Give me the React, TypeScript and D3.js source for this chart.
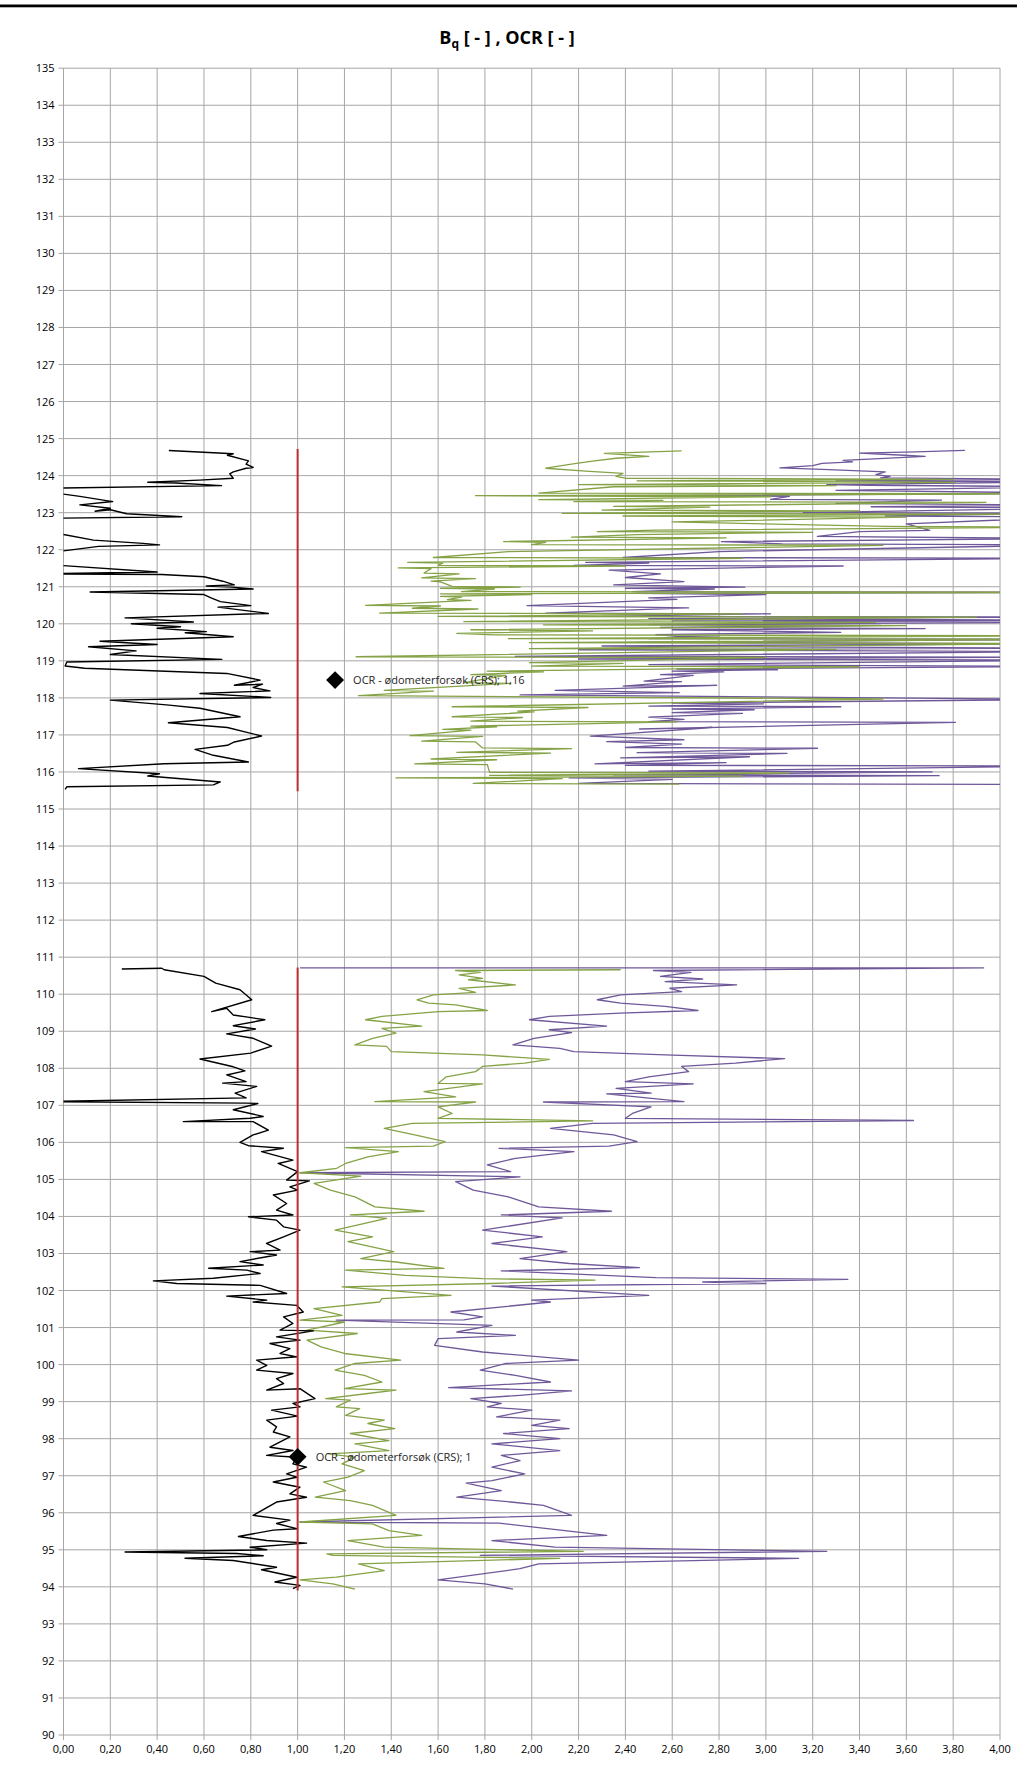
import React from 'react';
import * as d3 from 'd3';

// Bq (black) and OCR from correlations (green, purple) vs. elevation
const bqUpper: [number, number][] = [
  [0.45,124.68],[0.725,124.59],[0.70,124.55],[0.79,124.4],[0.78,124.31],[0.81,124.22],[0.78,124.2],[0.725,124.1],[0.71,124.05],[0.725,123.93],[0.58,123.88],[0.36,123.82],[0.48,123.8],[0.675,123.73],[-0.3,123.64],[-0.3,123.55],[0.0,123.5],[0.07,123.44],[0.21,123.3],[0.07,123.21],[0.2,123.12],[0.135,123.04],[0.2,123.08],[0.27,122.97],[0.505,122.89],[-0.3,122.83],[-0.3,122.5],[0.0,122.41],[0.128,122.26],[0.34,122.17],[0.41,122.13],[0.15,122.09],[0.0,121.97],[-0.3,121.9],[-0.3,121.65],[0.0,121.57],[0.4,121.4],[-0.1,121.35],[0.42,121.33],[0.6,121.27],[0.68,121.15],[0.73,121.05],[0.61,121.02],[0.72,120.99],[0.81,120.94],[0.114,120.86],[0.6,120.79],[0.63,120.7],[0.67,120.6],[0.8,120.49],[0.66,120.45],[0.875,120.28],[0.263,120.16],[0.555,120.05],[0.29,120.0],[0.5,119.92],[0.4,119.88],[0.61,119.79],[0.52,119.76],[0.725,119.65],[0.156,119.53],[0.4,119.44],[0.107,119.38],[0.31,119.27],[0.2,119.17],[0.676,119.04],[0.014,118.97],[0.007,118.86],[0.09,118.8],[0.697,118.66],[0.84,118.48],[0.73,118.34],[0.85,118.37],[0.81,118.28],[0.882,118.19],[0.583,118.12],[0.885,118.01],[0.2,117.94],[0.44,117.81],[0.583,117.72],[0.754,117.49],[0.448,117.33],[0.7,117.2],[0.846,116.97],[0.73,116.81],[0.7,116.72],[0.562,116.61],[0.64,116.45],[0.79,116.27],[0.43,116.22],[0.064,116.09],[0.41,115.95],[0.36,115.89],[0.67,115.73],[0.64,115.65],[0.014,115.6],[0.007,115.53]
];

const bqLower: [number, number][] = [
  [0.249,110.68],[0.42,110.7],[0.43,110.66],[0.6,110.48],[0.65,110.3],[0.754,110.12],[0.804,109.85],[0.633,109.53],[0.697,109.62],[0.725,109.44],[0.86,109.31],[0.725,109.15],[0.82,109.06],[0.697,108.93],[0.81,108.81],[0.889,108.6],[0.8,108.41],[0.583,108.25],[0.725,108.04],[0.775,107.93],[0.697,107.82],[0.78,107.64],[0.68,107.6],[0.825,107.51],[0.733,107.33],[0.78,107.2],[-0.1,107.1],[0.78,107.06],[0.83,107.05],[0.725,106.88],[0.853,106.7],[0.797,106.65],[0.512,106.56],[0.81,106.56],[0.875,106.33],[0.81,106.2],[0.754,106.0],[0.79,105.91],[0.939,105.84],[0.846,105.75],[0.98,105.52],[0.917,105.43],[1.0,105.21],[0.953,104.98],[1.05,104.96],[0.967,104.8],[1.0,104.71],[0.896,104.58],[0.953,104.35],[0.91,104.17],[0.98,104.04],[0.79,103.99],[0.91,103.9],[0.94,103.72],[1.01,103.63],[0.94,103.45],[0.867,103.27],[0.925,103.09],[0.797,103.05],[0.91,102.96],[0.754,102.78],[0.853,102.69],[0.62,102.6],[0.783,102.55],[0.84,102.46],[0.64,102.33],[0.384,102.26],[0.484,102.19],[0.84,102.14],[0.953,101.92],[0.697,101.85],[0.868,101.74],[0.81,101.69],[0.996,101.6],[1.024,101.42],[0.94,101.29],[0.98,101.11],[0.925,100.93],[1.067,100.91],[0.91,100.75],[1.01,100.66],[0.882,100.57],[0.967,100.43],[0.925,100.3],[0.996,100.21],[0.825,100.12],[0.868,99.98],[0.825,99.85],[0.98,99.76],[0.91,99.62],[0.94,99.49],[0.868,99.31],[1.01,99.35],[1.074,99.08],[0.98,98.95],[1.01,98.86],[0.889,98.77],[1.0,98.61],[0.868,98.5],[0.91,98.32],[0.896,98.18],[0.967,98.05],[0.882,97.77],[0.98,97.68],[0.868,97.55],[0.996,97.5],[0.98,97.32],[1.038,97.23],[0.953,97.05],[0.996,96.96],[0.896,96.83],[1.01,96.69],[0.967,96.51],[1.038,96.42],[0.91,96.29],[0.81,95.93],[0.967,95.8],[0.91,95.71],[0.996,95.57],[0.896,95.53],[0.747,95.36],[0.868,95.25],[1.038,95.18],[0.797,95.07],[0.868,95.0],[0.263,94.94],[0.74,94.9],[0.853,94.84],[0.519,94.77],[0.725,94.71],[0.91,94.53],[0.846,94.46],[0.996,94.26],[0.903,94.13],[1.01,94.04],[0.98,93.95]
];

const greenUpper: [number, number][] = [
  [2.64,124.67],[2.31,124.6],[2.5,124.52],[2.36,124.47],[2.26,124.39],[2.19,124.33],[2.06,124.2],[2.23,124.12],[2.39,124.06],[2.36,123.98],[2.4,123.93],[3.8,123.9],[2.45,123.86],[3.81,123.82],[2.2,123.76],[3.3,123.73],[2.35,123.7],[2.03,123.53],[4.3,123.51],[1.76,123.46],[3.02,123.43],[2.03,123.35],[2.56,123.33],[2.18,123.3],[3.94,123.28],[2.35,123.17],[2.76,123.15],[2.3,123.07],[3.4,123.05],[2.13,122.98],[4.3,122.96],[2.39,122.91],[3.6,122.88],[2.6,122.75],[3.52,122.63],[4.3,122.61],[2.53,122.53],[2.28,122.49],[3.2,122.47],[2.45,122.41],[2.17,122.34],[2.83,122.32],[1.88,122.22],[2.06,122.2],[2.0,122.14],[3.5,122.12],[1.9,121.95],[1.58,121.79],[2.9,121.77],[1.47,121.66],[1.62,121.64],[1.6,121.58],[2.4,121.56],[1.43,121.51],[1.57,121.49],[1.54,121.37],[1.69,121.35],[1.53,121.24],[1.76,121.22],[1.57,121.15],[1.61,121.13],[1.66,121.01],[1.95,120.99],[1.61,120.96],[1.84,120.94],[1.7,120.87],[4.3,120.85],[1.61,120.81],[2.0,120.79],[1.61,120.74],[1.7,120.72],[1.64,120.65],[1.74,120.63],[1.29,120.5],[1.61,120.48],[1.49,120.42],[1.77,120.4],[1.35,120.29],[2.9,120.27],[1.6,120.2],[3.9,120.18],[1.71,120.06],[3.47,120.04],[2.05,119.97],[3.6,119.95],[1.74,119.84],[2.26,119.81],[1.68,119.74],[1.84,119.7],[4.3,119.68],[1.9,119.6],[4.3,119.58],[1.99,119.49],[4.3,119.47],[1.99,119.33],[3.3,119.31],[1.25,119.11],[3.0,119.09],[1.99,118.95],[2.39,118.93],[2.0,118.86],[3.4,118.84],[1.81,118.72],[2.05,118.7],[1.74,118.63],[1.89,118.61],[1.71,118.41],[1.91,118.39],[1.37,118.2],[1.58,118.18],[1.26,118.06],[3.5,117.97],[1.66,117.76],[2.24,117.74],[1.94,117.64],[2.01,117.62],[1.66,117.49],[1.96,117.47],[1.74,117.37],[2.62,117.35],[1.74,117.24],[1.85,117.22],[1.62,117.15],[1.74,117.13],[1.48,116.98],[1.79,116.96],[1.53,116.83],[1.76,116.81],[1.79,116.65],[2.17,116.63],[1.68,116.53],[2.08,116.51],[1.57,116.35],[1.85,116.33],[1.5,116.22],[1.81,116.2],[1.82,115.99],[3.1,115.97],[1.82,115.91],[2.9,115.89],[1.42,115.84],[2.13,115.82],[1.75,115.69],[2.63,115.67]
];

const purpleUpper: [number, number][] = [
  [3.85,124.68],[3.64,124.64],[3.4,124.61],[3.59,124.55],[3.68,124.52],[3.33,124.41],[3.37,124.37],[3.24,124.33],[3.2,124.27],[3.06,124.21],[3.24,124.17],[3.51,124.1],[3.47,124.03],[3.53,123.98],[3.49,123.94],[4.3,123.9],[3.3,123.86],[4.3,123.83],[3.26,123.76],[3.44,123.74],[4.3,123.7],[3.3,123.6],[4.3,123.53],[2.64,123.46],[3.1,123.44],[3.02,123.36],[3.75,123.34],[3.3,123.25],[4.3,123.2],[3.45,123.16],[4.3,123.12],[3.16,123.0],[4.3,122.98],[3.51,122.91],[4.3,122.88],[3.6,122.7],[3.7,122.52],[3.4,122.49],[3.22,122.36],[4.3,122.3],[2.81,122.22],[3.07,122.16],[4.3,122.13],[2.8,121.95],[2.39,121.79],[4.3,121.77],[2.23,121.66],[2.5,121.64],[2.18,121.58],[3.33,121.56],[2.33,121.45],[2.55,121.35],[2.4,121.25],[2.65,121.14],[2.35,121.05],[2.91,120.99],[2.4,120.96],[2.78,120.94],[2.43,120.87],[4.3,120.85],[2.45,120.82],[3.0,120.79],[2.5,120.7],[2.62,120.66],[1.98,120.49],[2.67,120.43],[2.06,120.29],[3.02,120.27],[2.3,120.2],[4.3,120.18],[2.5,120.14],[4.3,120.1],[2.6,120.08],[4.3,120.04],[2.5,119.98],[3.49,119.96],[2.55,119.9],[3.68,119.87],[2.6,119.84],[3.32,119.77],[2.53,119.71],[2.62,119.66],[2.8,119.64],[2.5,119.6],[4.3,119.58],[2.45,119.5],[4.3,119.46],[2.3,119.4],[4.3,119.34],[2.2,119.3],[4.3,119.25],[1.93,119.12],[4.3,119.1],[2.2,119.05],[4.3,119.02],[2.5,118.9],[4.3,118.85],[2.62,118.78],[3.05,118.76],[2.6,118.72],[2.82,118.7],[2.55,118.63],[2.69,118.61],[2.48,118.45],[2.64,118.44],[2.39,118.32],[2.79,118.34],[2.1,118.2],[2.63,118.14],[1.95,118.08],[4.3,117.96],[2.6,117.86],[2.99,117.84],[2.5,117.78],[3.32,117.76],[2.6,117.7],[2.95,117.68],[2.6,117.6],[2.9,117.58],[2.5,117.48],[2.65,117.42],[2.5,117.36],[3.81,117.34],[2.46,117.16],[2.77,117.2],[2.25,116.97],[2.65,116.87],[2.32,116.82],[2.64,116.75],[2.4,116.66],[3.22,116.64],[2.45,116.52],[3.09,116.5],[2.38,116.38],[2.93,116.41],[2.27,116.22],[2.83,116.25],[2.4,116.18],[4.3,116.16],[2.5,116.02],[3.71,116.0],[2.35,115.92],[3.74,115.9],[2.16,115.84],[2.6,115.8],[2.2,115.69],[4.3,115.66]
];

const greenLower: [number, number][] = [
  [2.38,110.66],[1.675,110.64],[1.78,110.59],[1.69,110.52],[1.79,110.43],[1.73,110.39],[1.93,110.25],[1.69,110.16],[1.76,110.05],[1.58,109.98],[1.51,109.85],[1.56,109.76],[1.675,109.71],[1.81,109.56],[1.6,109.53],[1.36,109.4],[1.29,109.31],[1.53,109.14],[1.36,109.08],[1.42,108.95],[1.32,108.81],[1.245,108.63],[1.38,108.59],[1.4,108.45],[1.79,108.36],[2.075,108.24],[1.97,108.14],[1.79,108.05],[1.76,107.91],[1.635,107.77],[1.6,107.59],[1.79,107.58],[1.54,107.37],[1.675,107.23],[1.33,107.1],[1.76,107.09],[1.6,106.96],[1.66,106.78],[1.6,106.65],[2.26,106.58],[1.49,106.51],[1.37,106.38],[1.5,106.2],[1.63,106.02],[1.58,105.9],[1.205,105.86],[1.43,105.75],[1.3,105.61],[1.205,105.43],[1.167,105.3],[1.01,105.18],[1.27,105.09],[1.07,104.89],[1.14,104.71],[1.245,104.53],[1.33,104.26],[1.54,104.14],[1.225,104.04],[1.38,103.95],[1.16,103.63],[1.32,103.45],[1.215,103.32],[1.41,103.05],[1.27,102.86],[1.42,102.77],[1.625,102.6],[1.205,102.55],[1.46,102.41],[1.79,102.32],[2.27,102.28],[1.83,102.19],[1.19,102.1],[1.655,101.87],[1.36,101.78],[1.35,101.69],[1.07,101.51],[1.19,101.33],[1.01,101.2],[1.2,101.15],[1.04,100.93],[1.255,100.84],[1.04,100.66],[1.1,100.48],[1.2,100.3],[1.44,100.12],[1.245,100.03],[1.16,99.85],[1.285,99.71],[1.36,99.53],[1.2,99.35],[1.42,99.31],[1.3,99.22],[1.12,99.08],[1.225,99.04],[1.165,98.86],[1.265,98.81],[1.205,98.63],[1.37,98.5],[1.3,98.41],[1.415,98.27],[1.225,98.14],[1.39,97.95],[1.245,97.86],[1.39,97.68],[1.13,97.59],[1.245,97.5],[1.19,97.32],[1.285,97.14],[1.215,96.96],[1.11,96.83],[1.205,96.6],[1.075,96.42],[1.225,96.33],[1.32,96.2],[1.42,95.93],[1.01,95.75],[1.32,95.7],[1.39,95.52],[1.53,95.39],[1.215,95.25],[1.37,95.07],[2.22,94.96],[1.125,94.89],[1.15,94.85],[2.12,94.77],[1.26,94.62],[1.37,94.44],[1.165,94.26],[1.01,94.19],[1.15,94.08],[1.245,93.94]
];

const purpleLower: [number, number][] = [
  [1.01,110.71],[3.93,110.71],[2.52,110.64],[2.68,110.59],[2.55,110.48],[2.73,110.41],[2.57,110.34],[2.875,110.25],[2.59,110.16],[2.64,110.07],[2.38,109.98],[2.28,109.85],[2.38,109.76],[2.57,109.67],[2.71,109.56],[2.38,109.49],[2.075,109.4],[1.99,109.31],[2.32,109.14],[2.075,109.04],[2.17,108.96],[2.01,108.81],[1.92,108.63],[2.12,108.54],[2.18,108.45],[2.57,108.36],[3.08,108.26],[2.87,108.14],[2.64,108.05],[2.67,107.91],[2.5,107.77],[2.4,107.64],[2.69,107.58],[2.36,107.46],[2.51,107.33],[2.32,107.31],[2.65,107.1],[2.05,107.09],[2.51,106.96],[2.43,106.78],[2.4,106.65],[3.63,106.59],[2.26,106.51],[2.08,106.38],[2.35,106.2],[2.45,106.02],[2.33,105.9],[1.86,105.84],[2.18,105.75],[1.93,105.57],[1.81,105.39],[1.91,105.21],[1.01,105.18],[1.95,105.07],[1.675,104.94],[1.75,104.71],[1.9,104.53],[2.03,104.26],[2.34,104.14],[1.87,104.04],[2.13,103.96],[1.79,103.63],[2.045,103.45],[1.83,103.27],[2.15,103.05],[1.95,102.86],[2.16,102.73],[2.46,102.62],[1.87,102.53],[2.53,102.35],[3.35,102.3],[2.73,102.23],[3.0,102.19],[1.83,102.12],[2.5,101.87],[2.0,101.74],[2.08,101.69],[1.655,101.42],[1.79,101.29],[1.71,101.21],[1.165,101.2],[1.83,101.06],[1.68,100.88],[1.93,100.79],[1.6,100.7],[1.585,100.52],[1.79,100.34],[2.2,100.12],[1.89,100.03],[1.78,99.85],[1.93,99.71],[2.08,99.53],[1.645,99.38],[2.17,99.29],[1.95,99.17],[1.74,99.08],[1.87,98.95],[1.81,98.86],[2.0,98.77],[1.85,98.59],[2.12,98.5],[2.0,98.36],[2.16,98.27],[1.88,98.14],[2.12,98.0],[1.83,97.86],[2.12,97.68],[1.87,97.55],[1.95,97.41],[1.83,97.23],[1.97,97.05],[1.83,96.87],[1.72,96.8],[1.87,96.6],[1.68,96.42],[1.91,96.29],[2.05,96.2],[2.17,95.93],[1.01,95.75],[1.86,95.72],[2.01,95.61],[2.32,95.39],[1.83,95.25],[2.1,95.07],[3.26,94.96],[1.78,94.85],[3.14,94.77],[2.03,94.62],[1.95,94.49],[1.6,94.19],[1.8,94.08],[1.92,93.94]
];

// red reference line OCR = 1 for both sounding intervals
const refUpper: [number, number][] = [[1.0, 124.72], [1.0, 115.48]];
const refLower: [number, number][] = [[1.0, 110.72], [1.0, 93.9]];

// oedometer (CRS) results
const crsPoints = [
  { ocr: 1.16, depth: 118.48, label: 'OCR - ødometerforsøk (CRS); 1,16' },
  { ocr: 1.0, depth: 97.51, label: 'OCR - ødometerforsøk (CRS); 1' },
];

const xTicks = [0, 0.2, 0.4, 0.6, 0.8, 1.0, 1.2, 1.4, 1.6, 1.8, 2.0, 2.2, 2.4, 2.6, 2.8, 3.0, 3.2, 3.4, 3.6, 3.8, 4.0];
const yTicks = d3.range(90, 136, 1);

const W = 1017;
const H = 1765;
const plot = { left: 63.5, right: 1000, top: 68.2, bottom: 1735 };
const font = "'Open Sans', sans-serif";

const fmt = d3.formatLocale({ decimal: ',', thousands: ' ', grouping: [3], currency: ['', ''] }).format('.2f');

export default function App() {
  const x = d3.scaleLinear().domain([0, 4]).range([plot.left, plot.right]);
  const y = d3.scaleLinear().domain([90, 135]).range([plot.bottom, plot.top]);
  const line = d3.line<[number, number]>().x(d => x(d[0])).y(d => y(d[1]));
  const diamond = d3.symbol().type(d3.symbolSquare).size(160);

  const series = [
    { data: purpleUpper, color: '#6f5899', w: 1.3 },
    { data: purpleLower, color: '#6f5899', w: 1.3 },
    { data: greenUpper, color: '#85a346', w: 1.3 },
    { data: greenLower, color: '#85a346', w: 1.3 },
    { data: bqUpper, color: '#000000', w: 1.4 },
    { data: bqLower, color: '#000000', w: 1.4 },
  ];

  return (
    <svg width={W} height={H} style={{ position: 'absolute', left: 0, top: 0, background: '#fff' }} fontFamily={font}>
      <defs>
        <clipPath id="plotClip">
          <rect x={plot.left} y={plot.top} width={plot.right - plot.left} height={plot.bottom - plot.top} />
        </clipPath>
      </defs>
      <rect x={0} y={0} width={W} height={H} fill="#fff" />
      <rect x={0} y={4.5} width={W} height={2.8} fill="#000" />

      <text x={507} y={44} textAnchor="middle" fontSize={18} fontWeight="bold" fill="#000">
        B<tspan fontSize={12} dy={4}>q</tspan><tspan dy={-4}> [ - ] , OCR [ - ]</tspan>
      </text>

      {/* grid */}
      <g stroke="#a6a6a6" strokeWidth={1}>
        {yTicks.map(t => (
          <line key={'gy' + t} x1={plot.left - 5} x2={plot.right} y1={y(t)} y2={y(t)} />
        ))}
        {xTicks.map(t => (
          <line key={'gx' + t} x1={x(t)} x2={x(t)} y1={plot.top} y2={plot.bottom + 5} />
        ))}
      </g>

      <g fontSize={11} fill="#000">
        {yTicks.map(t => (
          <text key={'ly' + t} x={plot.left - 9} y={y(t) + 4} textAnchor="end">{t}</text>
        ))}
        {xTicks.map(t => (
          <text key={'lx' + t} x={x(t)} y={plot.bottom + 18} textAnchor="middle">{fmt(t)}</text>
        ))}
      </g>

      <g clipPath="url(#plotClip)" fill="none" strokeLinejoin="round">
        {series.map((s, i) => (
          <path key={i} d={line(s.data) || ''} stroke={s.color} strokeWidth={s.w} />
        ))}
        <path d={line(refUpper) || ''} stroke="#b8312d" strokeWidth={2} />
        <path d={line(refLower) || ''} stroke="#b8312d" strokeWidth={2} />
      </g>

      {crsPoints.map(p => (
        <g key={p.label}>
          <path d={diamond() || ''} transform={`translate(${x(p.ocr)},${y(p.depth)}) rotate(45)`} fill="#000" />
          <text x={x(p.ocr) + 18} y={y(p.depth) + 4} fontSize={11} fill="#262626">{p.label}</text>
        </g>
      ))}
    </svg>
  );
}
